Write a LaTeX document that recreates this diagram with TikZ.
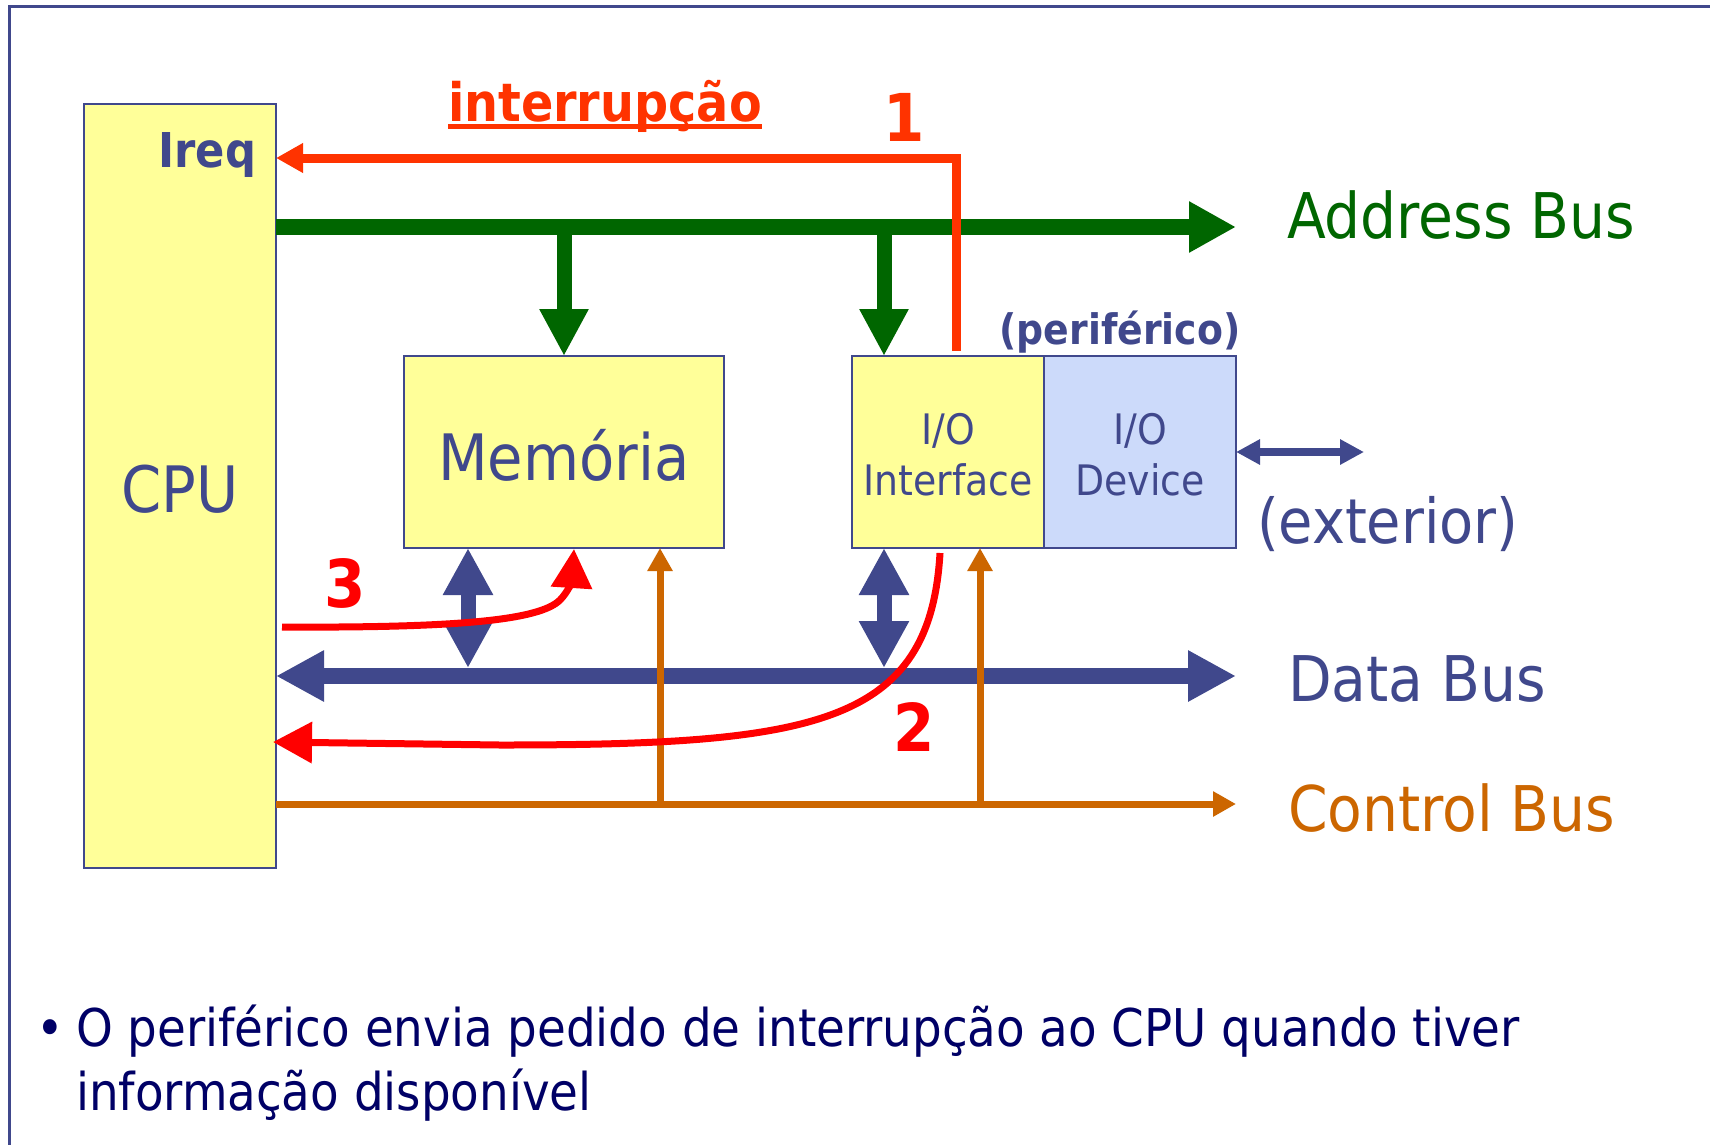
\documentclass[tikz,border=0pt]{standalone}
\usepackage{fontspec}
\setmainfont{DejaVu Sans Condensed}[BoldFont={DejaVu Sans Condensed Bold}]
\usetikzlibrary{arrows.meta,calc}

\definecolor{navy}{RGB}{64,72,140}
\definecolor{inknavy}{RGB}{0,0,102}
\definecolor{busgreen}{RGB}{0,102,0}
\definecolor{busorange}{RGB}{204,102,0}
\definecolor{irqred}{RGB}{255,51,0}
\definecolor{flowred}{RGB}{255,0,0}
\definecolor{paleyellow}{RGB}{255,255,153}
\definecolor{paleblue}{RGB}{204,218,250}

\newcommand\setfs[1]{\fontsize{#1pt}{#1pt}\selectfont}

\tikzset{
  blockbox/.style={draw=navy, line width=2pt, fill=paleyellow, inner sep=0pt, outer sep=0pt},
  txt/.style={inner sep=0pt, outer sep=0pt},
  addrline/.style={draw=busgreen, line width=16pt, >={Triangle[length=47pt,width=48pt]}, ->},
  addrdrop/.style={draw=busgreen, line width=15pt, >={Triangle[length=47pt,width=46pt]}, ->},
  dataline/.style={draw=navy, line width=16pt, >={Triangle[length=48pt,width=48pt]}, <->},
  datalink/.style={draw=navy, line width=15pt, >={Triangle[length=47pt,width=47pt]}, <->},
  extlink/.style={draw=navy, line width=8pt, >={Triangle[length=24pt,width=24pt]}, <->},
  ctrlline/.style={draw=busorange, line width=7pt, >={Triangle[length=23pt,width=24pt]}, ->},
  irqline/.style={draw=irqred, line width=9pt, >={Triangle[length=27pt,width=28pt]}, ->},
  flowline/.style={draw=flowred, line width=7pt, >={Triangle[length=39pt,width=40pt]}, ->},
  frameline/.style={draw=navy, line width=3pt},
}

\begin{document}
\begin{tikzpicture}[x=1pt,y=-1pt]
\useasboundingbox (0,0) rectangle (1710,1144);
\fill[white] (0,0) rectangle (1710,1144);

% slide frame
\draw[frameline] (9,1146) -- (9,6) -- (1712,6);

% blocks
\node[blockbox, minimum width=192pt, minimum height=764pt] (cpu) at (180,486) {};
\node[blockbox, minimum width=320pt, minimum height=192pt] (mem) at (564,452) {};
\node[blockbox, minimum width=192pt, minimum height=192pt] (ioif) at (948,452) {};
\node[blockbox, fill=paleblue, minimum width=192pt, minimum height=192pt] (iodev) at (1140,452) {};

% bus end points
\coordinate (abEnd) at (1236,227);
\coordinate (dbEnd) at (1236,676);
\coordinate (cbEnd) at (1236,804);
\coordinate (irqTurn) at (956,158);
\coordinate (extEnd) at (1364,452);

% address bus
\draw[addrline] (cpu.east |- abEnd) -- (abEnd);
\draw[addrdrop] (mem.north |- abEnd) -- (mem.north);
\draw[addrdrop] ($(ioif.north west |- abEnd)+(32,0)$) -- ($(ioif.north west)+(32,0)$);

% interrupt request
\draw[irqline] ($(ioif.north west)+(104,-5)$) -- (irqTurn) -- (cpu.east |- irqTurn);

% data bus
\draw[dataline] (cpu.east |- dbEnd) -- (dbEnd);
\draw[datalink] ($(mem.south west)+(64,0)$) -- ($(mem.south west |- dbEnd)+(64,-8)$);
\draw[datalink] ($(ioif.south west)+(32,0)$) -- ($(ioif.south west |- dbEnd)+(32,-8)$);

% control bus
\draw[ctrlline] (cpu.east |- cbEnd) -- (cbEnd);
\draw[ctrlline] ($(mem.south west |- cbEnd)+(256,0)$) -- ($(mem.south west)+(256,0)$);
\draw[ctrlline] ($(ioif.south west |- cbEnd)+(128,0)$) -- ($(ioif.south west)+(128,0)$);

% device to outside
\draw[extlink] (iodev.east) -- (extEnd);

% interrupt service flow
\coordinate (flowA) at (282,627);
\draw[flowline] (flowA) .. controls (460,628) and (540,620) .. (560,600)
  .. controls (568,592) and (572,580) .. ($(mem.south west)+(170,1)$);
\coordinate (flowB) at (500,745);
\draw[flowline] ($(ioif.south west)+(88,5)$) .. controls (930,725) and (815,745) .. (flowB)
  -- ($(cpu.east |- flowB)+(-3,-3)$);

% block labels
\node[txt, anchor=base, text=navy, font={\setfs{64}}] (cpuT) at (180,512) {CPU};
\node[txt, anchor=base east, text=navy, font={\bfseries\setfs{48}}] (ireqT) at (256,167) {Ireq};
\node[txt, anchor=base, text=navy, font={\setfs{64}}] (memT) at (564,480) {Memória};
\node[txt, anchor=base, text=navy, font={\setfs{42}}] (ioifT1) at (948,444) {I/O};
\node[txt, anchor=base, text=navy, font={\setfs{42}}] (ioifT2) at (948,495) {Interface};
\node[txt, anchor=base, text=navy, font={\setfs{42}}] (iodevT1) at (1140,444) {I/O};
\node[txt, anchor=base, text=navy, font={\setfs{42}}] (iodevT2) at (1140,495) {Device};
\node[txt, anchor=base, text=navy, font={\bfseries\setfs{42}}] (perT) at (1120,344) {(periférico)};
\node[txt, anchor=base west, text=navy, font={\setfs{62}}] (extT) at (1257,543) {(exterior)};

% bus labels
\node[txt, anchor=base west, text=busgreen, font={\setfs{63}}] (abT) at (1287,238) {Address Bus};
\node[txt, anchor=base west, text=navy, font={\setfs{63}}] (dbT) at (1288,701) {Data Bus};
\node[txt, anchor=base west, text=busorange, font={\setfs{63}}] (cbT) at (1288,831) {Control Bus};

% interrupt labels
\node[txt, anchor=base west, text=irqred, font={\bfseries\setfs{53}}] (intrT) at (448,121) {interrupção};
\draw[irqred, line width=5pt] ([yshift=-5.5pt]intrT.base west) -- ([yshift=-5.5pt]intrT.base east);
\node[txt, anchor=base, text=irqred, font={\bfseries\setfs{66}}] (n1) at (904,141) {1};
\node[txt, anchor=base, text=flowred, font={\bfseries\setfs{66}}] (n2) at (914,751) {2};
\node[txt, anchor=base, text=flowred, font={\bfseries\setfs{66}}] (n3) at (345,607) {3};

% caption
\node[txt, anchor=base west, text=inknavy, font={\setfs{52}}] (bul) at (36,1046) {•};
\node[txt, anchor=base west, text=inknavy, font={\setfs{52}}] (cap1) at (76,1046) {O periférico envia pedido de interrupção ao CPU quando tiver};
\node[txt, anchor=base west, text=inknavy, font={\setfs{52}}] (cap2) at (76,1110) {informação disponível};
\end{tikzpicture}
\end{document}
